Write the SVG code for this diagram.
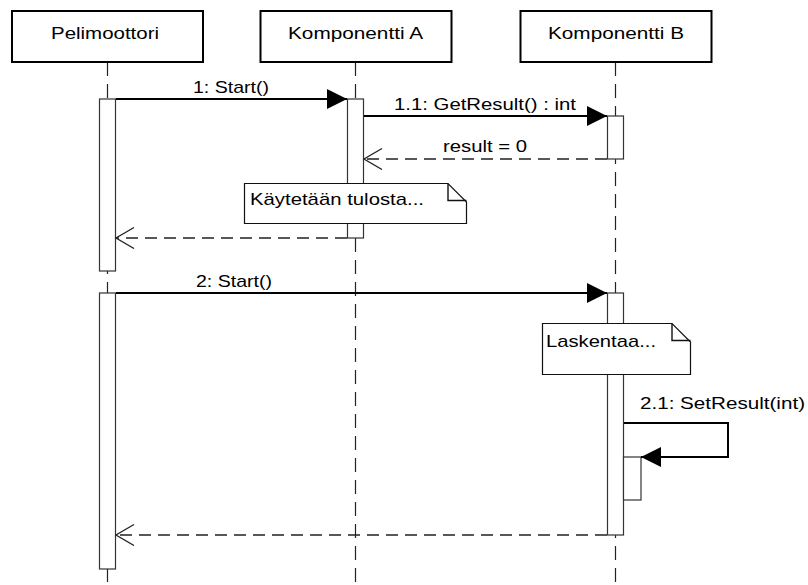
<svg xmlns="http://www.w3.org/2000/svg" width="808" height="585" viewBox="0 0 808 585">
  <style>
    .head { fill: #fff; stroke: #000; stroke-width: 2; }
    .life { fill: none; stroke: #222; stroke-width: 1.2; stroke-dasharray: 14 8; }
    .act { fill: #fff; stroke: #333; stroke-width: 1.2; }
    .note { fill: #fff; stroke: #111; stroke-width: 1.2; }
    .fold { fill: none; stroke: #111; stroke-width: 1.4; }
    .call { fill: none; stroke: #000; stroke-width: 2; marker-end: url(#solid); }
    .ret { fill: none; stroke: #222; stroke-width: 1.3; stroke-dasharray: 12 7; marker-end: url(#open); }
    text { font-family: "Liberation Sans", Arial, sans-serif; font-size: 17px; fill: #000; }
  </style>
  <defs>
    <marker id="solid" markerUnits="userSpaceOnUse" markerWidth="22" markerHeight="22" refX="20" refY="10" orient="auto" viewBox="0 0 22 22">
      <path d="M0,0 L20,10 L0,20 Z" fill="#000"/>
    </marker>
    <marker id="open" markerUnits="userSpaceOnUse" markerWidth="22" markerHeight="24" refX="20" refY="11" orient="auto" viewBox="0 0 22 24">
      <path d="M2,0.5 L20,11 L2,21.5" fill="none" stroke="#222" stroke-width="1.3"/>
    </marker>
  </defs>

  <!-- lifelines -->
  <g id="lifelines">
    <path class="life" d="M107.5,62 V585"/>
    <path class="life" d="M355.5,62 V585"/>
    <path class="life" d="M615.5,62 V585"/>
  </g>

  <!-- participants -->
  <g id="pelimoottori">
    <rect class="head" x="12" y="11" width="191" height="51"/>
    <text x="51" y="39" textLength="108" lengthAdjust="spacingAndGlyphs">Pelimoottori</text>
  </g>
  <g id="komponentti-a">
    <rect class="head" x="260.5" y="11" width="191" height="51"/>
    <text x="288" y="39" textLength="135" lengthAdjust="spacingAndGlyphs">Komponentti A</text>
  </g>
  <g id="komponentti-b">
    <rect class="head" x="520.5" y="11" width="191" height="51"/>
    <text x="548" y="39" textLength="136" lengthAdjust="spacingAndGlyphs">Komponentti B</text>
  </g>

  <!-- activation bars -->
  <g id="activations">
    <rect class="act" x="99.5" y="99" width="16" height="172"/>
    <rect class="act" x="99.5" y="293" width="16" height="276"/>
    <rect class="act" x="347.5" y="99" width="16" height="139"/>
    <rect class="act" x="607.5" y="116" width="16" height="43"/>
    <rect class="act" x="607.5" y="293" width="16" height="242"/>
    <rect class="act" x="623.5" y="457" width="17.5" height="43"/>
  </g>

  <!-- messages -->
  <g id="connectors">
    <path class="call" d="M116,99 H347"/>
    <path class="call" d="M364,116 H607"/>
    <path class="ret" d="M607,159 H364"/>
    <path class="ret" d="M347,238 H116"/>
    <path class="call" d="M116,293 H607"/>
    <path class="call" d="M624,423 H728 V457 H641"/>
    <path class="ret" d="M607,535 H116"/>
  </g>

  <g id="labels">
    <text x="193" y="93" textLength="76" lengthAdjust="spacingAndGlyphs">1: Start()</text>
    <text x="394" y="110" textLength="182" lengthAdjust="spacingAndGlyphs">1.1: GetResult() : int</text>
    <text x="443" y="152" textLength="84" lengthAdjust="spacingAndGlyphs">result = 0</text>
    <text x="196" y="287" textLength="76" lengthAdjust="spacingAndGlyphs">2: Start()</text>
    <text x="640" y="409" textLength="165" lengthAdjust="spacingAndGlyphs">2.1: SetResult(int)</text>
  </g>

  <!-- notes -->
  <g id="note-kaytetaan">
    <path class="note" d="M244.5,183.5 H448 L466.5,202 V223.5 H244.5 Z"/>
    <path class="fold" d="M448,183.5 V200.5 H466.5"/>
    <text x="250" y="205" textLength="174" lengthAdjust="spacingAndGlyphs">Käytetään tulosta...</text>
  </g>
  <g id="note-laskentaa">
    <path class="note" d="M542.5,323.5 H672 L690.5,342 V374.5 H542.5 Z"/>
    <path class="fold" d="M672,323.5 V340.5 H690.5"/>
    <text x="546" y="347" textLength="110" lengthAdjust="spacingAndGlyphs">Laskentaa...</text>
  </g>
</svg>
